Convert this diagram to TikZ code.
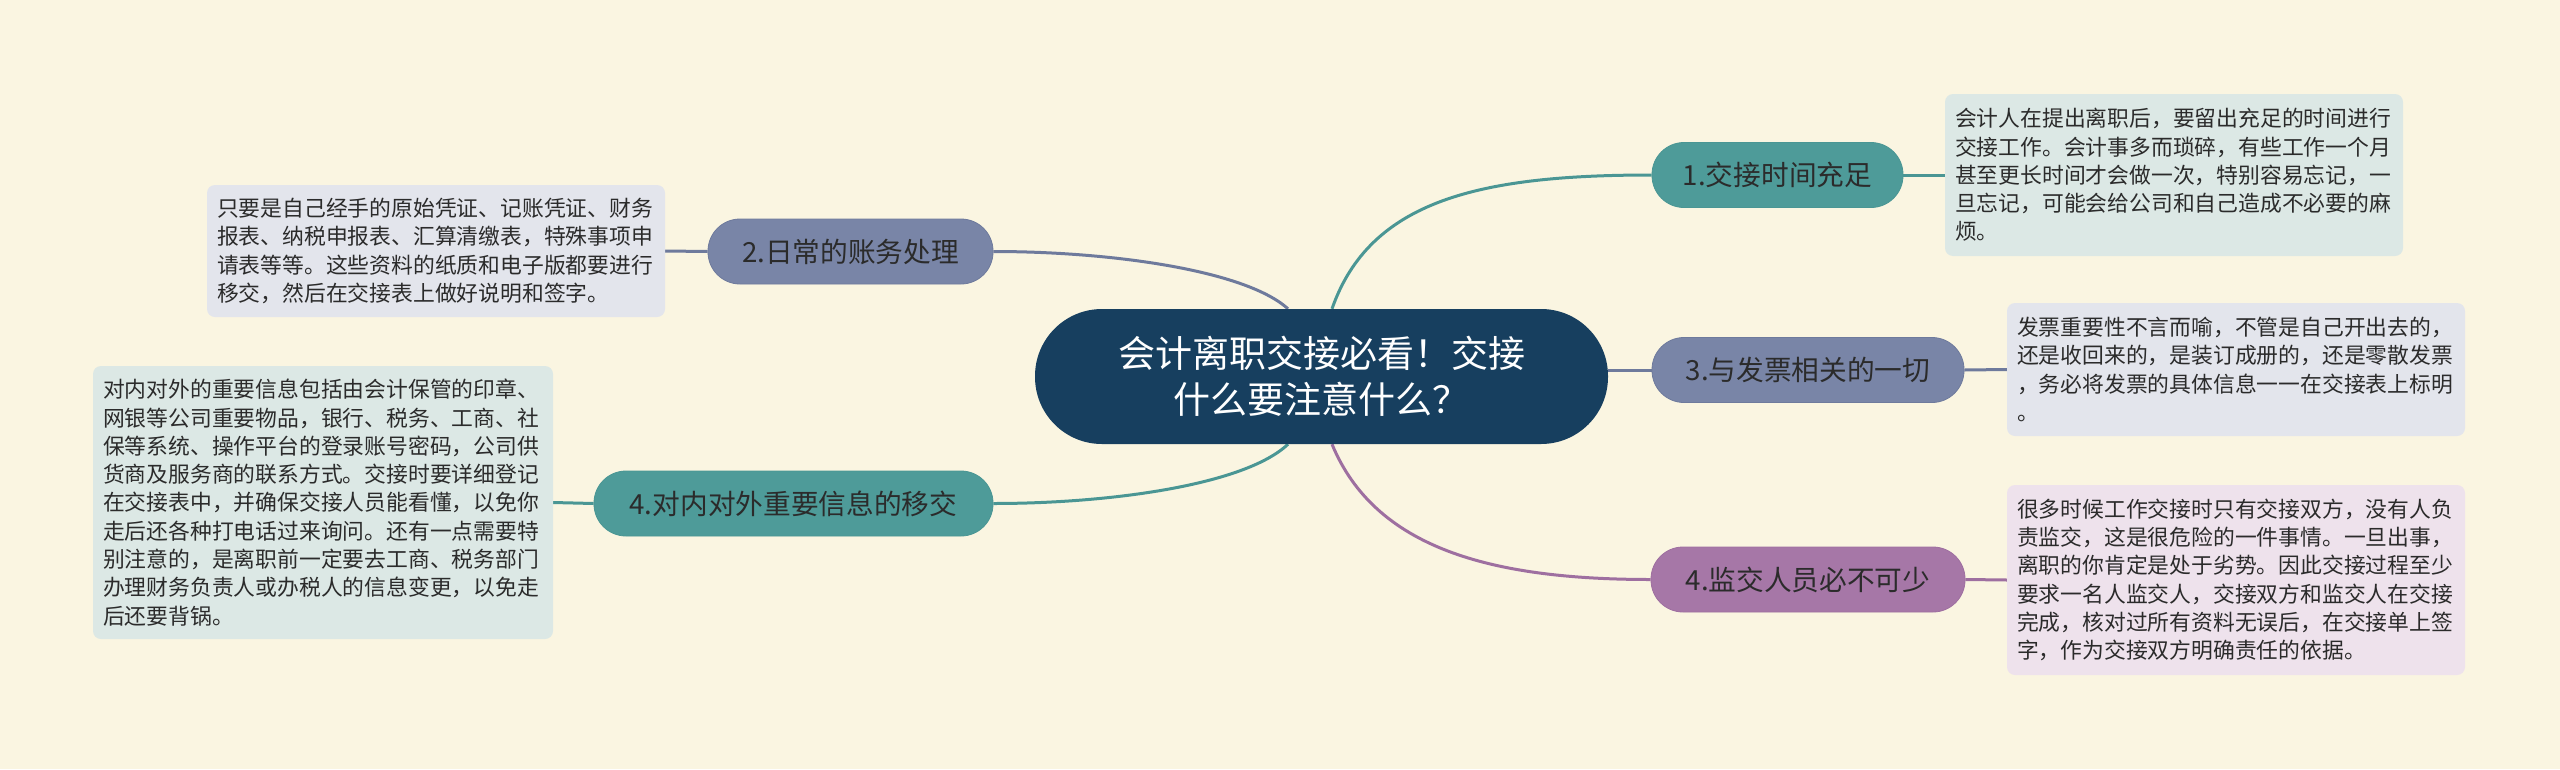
\documentclass[tikz,border=0pt]{standalone}
\usepackage{fontspec}
\setmainfont{Noto Sans CJK SC}
\usetikzlibrary{calc}
\pgfdeclarelayer{bglayer}
\pgfdeclarelayer{linklayer}
\pgfsetlayers{bglayer,linklayer,main}
\definecolor{bgc}{HTML}{FAF5E1}
\definecolor{cenc}{HTML}{173F5F}
\definecolor{tealc}{HTML}{4E9B99}
\definecolor{slatec}{HTML}{7985A7}
\definecolor{purpc}{HTML}{A677A7}
\definecolor{teall}{HTML}{4A9694}
\definecolor{slatel}{HTML}{6E7A9C}
\definecolor{purpl}{HTML}{9E6FA0}
\definecolor{tealbox}{HTML}{DCE8E5}
\definecolor{slatebox}{HTML}{E3E5EC}
\definecolor{purpbox}{HTML}{EEE2EC}
\definecolor{txt}{HTML}{2B2B2B}
\tikzset{
  centerbox/.style={fill=cenc, text=white, rounded corners=67pt, minimum width=573pt, minimum height=135pt, align=center, inner sep=0pt, font=\fontsize{37}{46}\selectfont},
  branch/.style={rounded corners=32pt, minimum height=65pt, inner sep=0pt, text=txt, line width=0.8pt, font=\fontsize{27.7}{32}\selectfont},
  tealnode/.style={branch, fill=tealc, draw=teall},
  slatenode/.style={branch, fill=slatec, draw=slatel},
  purpnode/.style={branch, fill=purpc, draw=purpl},
  infobox/.style={rounded corners=8pt, text width=438pt, inner xsep=10pt, inner ysep=0pt, align=left, text=txt, font=\fontsize{21.8}{28.3}\selectfont},
  link/.style={line width=3pt},
}
\begin{document}
\begin{tikzpicture}[x=1pt,y=-1pt]
\begin{pgfonlayer}{bglayer}
\fill[bgc] (0,0) rectangle (2560,769);
\end{pgfonlayer}
\useasboundingbox (0,0) rectangle (2560,769);

\node[centerbox] (cen) at (1321.5,376.5) {会计离职交接必看！交接\\什么要注意什么？};
\coordinate (ctl) at ($(cen.north)+(-33.5,0)$);
\coordinate (ctr) at ($(cen.north)+(10.5,0)$);
\coordinate (cbl) at ($(cen.south)+(-33.5,0)$);
\coordinate (cbr) at ($(cen.south)+(10.5,0)$);

\node[tealnode, minimum width=251pt] (n1) at (1777.5,175) {1.交接时间充足};
\node[slatenode, minimum width=285pt] (n2) at (850.5,251.5) {2.日常的账务处理};
\node[slatenode, minimum width=312pt] (n3) at (1808,370) {3.与发票相关的一切};
\node[tealnode, minimum width=399pt] (n4l) at (793.5,503.5) {4.对内对外重要信息的移交};
\node[purpnode, minimum width=314pt] (n4r) at (1808,579.5) {4.监交人员必不可少};

\node[infobox, fill=tealbox, minimum height=162pt] (b1) at (2174,175) {会计人在提出离职后，要留出充足的时间进行\\交接工作。会计事多而琐碎，有些工作一个月\\甚至更长时间才会做一次，特别容易忘记，一\\旦忘记，可能会给公司和自己造成不必要的麻\\烦。};
\node[infobox, fill=slatebox, minimum height=132pt] (b2) at (436,251) {只要是自己经手的原始凭证、记账凭证、财务\\报表、纳税申报表、汇算清缴表，特殊事项申\\请表等等。这些资料的纸质和电子版都要进行\\移交，然后在交接表上做好说明和签字。};
\node[infobox, fill=slatebox, minimum height=133pt] (b3) at (2236,369.5) {发票重要性不言而喻，不管是自己开出去的，\\还是收回来的，是装订成册的，还是零散发票\\，务必将发票的具体信息一一在交接表上标明\\。};
\node[infobox, fill=tealbox, minimum height=273pt, text width=440pt] (b4) at (323,502.5) {对内对外的重要信息包括由会计保管的印章、\\网银等公司重要物品，银行、税务、工商、社\\保等系统、操作平台的登录账号密码，公司供\\货商及服务商的联系方式。交接时要详细登记\\在交接表中，并确保交接人员能看懂，以免你\\走后还各种打电话过来询问。还有一点需要特\\别注意的，是离职前一定要去工商、税务部门\\办理财务负责人或办税人的信息变更，以免走\\后还要背锅。};
\node[infobox, fill=purpbox, minimum height=190pt] (b5) at (2236,580) {很多时候工作交接时只有交接双方，没有人负\\责监交，这是很危险的一件事情。一旦出事，\\离职的你肯定是处于劣势。因此交接过程至少\\要求一名人监交人，交接双方和监交人在交接\\完成，核对过所有资料无误后，在交接单上签\\字，作为交接双方明确责任的依据。};

\begin{pgfonlayer}{linklayer}
% curves from centre to branches
\draw[link, teall] (ctr) .. controls (1370,200) and (1480,175) .. (n1.west);
\draw[link, slatel] (ctl) .. controls (1245,270) and (1110,251.5) .. (n2.east);
\draw[link, slatel] (n3.west) -- (cen.east |- n3.west);
\draw[link, teall] (cbl) .. controls (1245,485) and (1110,503.5) .. (n4l.east);
\draw[link, purpl] (cbr) .. controls (1375,548) and (1490,579.5) .. (n4r.west);
% branch to info boxes
\draw[link, teall] (n1.east) -- (b1.west);
\draw[link, slatel] (n2.west) -- (b2.east);
\draw[link, slatel] (n3.east) -- (b3.west);
\draw[link, teall] (n4l.west) -- (b4.east);
\draw[link, purpl] (n4r.east) -- (b5.west);
\end{pgfonlayer}
\end{tikzpicture}
\end{document}
